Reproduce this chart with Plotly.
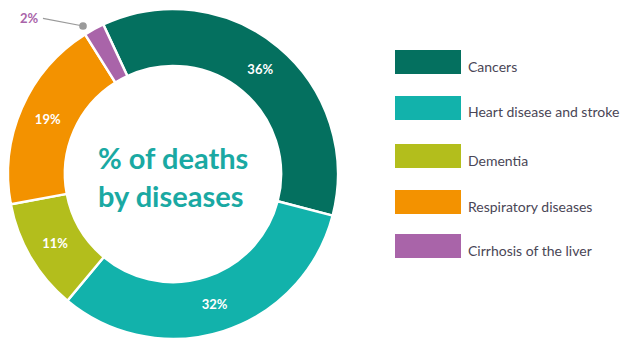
import plotly.graph_objects as go

categories = ["Cancers", "Heart disease and stroke", "Dementia", "Respiratory diseases", "Cirrhosis of the liver"]
values = [36, 32, 11, 19, 2]
colors = ["#04705f", "#12b2ab", "#b3be1c", "#f39200", "#a964a9"]

W, H = 625, 345

text = [f"{v}%" if v >= 5 else "" for v in values]

fig = go.Figure(go.Pie(
    labels=categories, values=values, sort=False, direction="clockwise",
    rotation=-25, hole=0.655,
    marker=dict(colors=colors, line=dict(color="white", width=2.5)),
    text=text, textinfo="text", textposition="inside", insidetextorientation="horizontal",
    textfont=dict(color="white", size=13, family="Lato", weight="bold"),
    domain=dict(x=[8 / W, 338 / W], y=[5 / H, 337 / H]),
    showlegend=False, hoverinfo="label+percent",
))

annotations = [
    dict(text="% of deaths<br>by diseases", x=173 / W, y=1 - 176 / H, xref="paper", yref="paper",
         xanchor="center", yanchor="middle",
         showarrow=False, font=dict(size=29, color="#1aa9a3", family="Lato", weight="bold"),
         align="left"),
]
# small-slice label with leader line
for c, v, col in zip(categories, values, colors):
    if v < 5:
        annotations.append(dict(text=f"{v}%", x=83 / W, y=1 - 26 / H, xref="paper", yref="paper",
                                showarrow=True, arrowhead=6, arrowsize=1.6, arrowwidth=1.2,
                                arrowcolor="#9a9a9a", ax=-42, ay=-8, xanchor="right",
                                font=dict(size=13, color=col, family="Lato", weight="bold"),
                                standoff=0, startstandoff=2))

shapes = []
row_y = [62, 108, 156, 202, 246]
for c, col, yc in zip(categories, colors, row_y):
    shapes.append(dict(type="rect", xref="paper", yref="paper",
                       x0=395 / W, x1=461 / W, y0=1 - (yc + 12) / H, y1=1 - (yc - 12) / H,
                       fillcolor=col, line=dict(width=0)))
    annotations.append(dict(text=c, x=466 / W, y=1 - (yc + 4) / H, xref="paper", yref="paper",
                            xanchor="left", yanchor="middle", showarrow=False,
                            font=dict(size=14, color="#4a4656", family="Lato")))

fig.update_layout(width=W, height=H, margin=dict(l=0, r=0, t=0, b=0),
                  paper_bgcolor="white", plot_bgcolor="white",
                  annotations=annotations, shapes=shapes)

fig.write_html("out.html")
